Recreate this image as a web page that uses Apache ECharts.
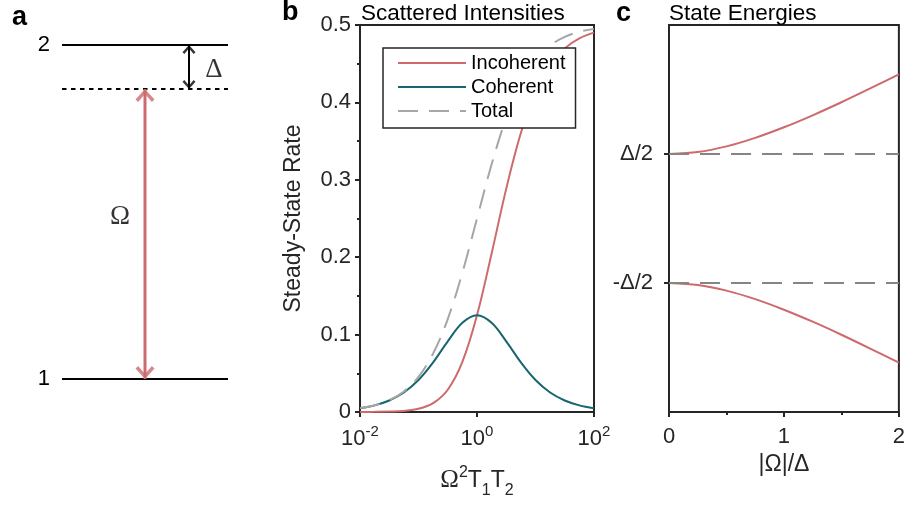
<!DOCTYPE html>
<html><head><meta charset="utf-8">
<script src="https://cdn.jsdelivr.net/npm/echarts@6/dist/echarts.min.js"></script>
<style>html,body{margin:0;padding:0;background:#fff}#c{width:908px;height:508px}</style>
</head><body><div id="c"></div>
<script>
// ---------- Panel b : scattered intensities vs saturation parameter ----------
const sValues    = [0.01, 0.01778, 0.03162, 0.05623, 0.1, 0.1778, 0.3162, 0.5623, 1, 1.778, 3.162, 5.623, 10, 17.78, 31.62, 56.23, 100];
const incoherent = [0.0001, 0.0002, 0.0005, 0.0014, 0.0041, 0.0114, 0.0288, 0.0648, 0.125, 0.2048, 0.2886, 0.3604, 0.4132, 0.4482, 0.4698, 0.4827, 0.4901];
const coherent   = [0.0049, 0.0086, 0.0149, 0.0252, 0.0413, 0.0641, 0.0913, 0.1152, 0.125, 0.1152, 0.0913, 0.0641, 0.0413, 0.0252, 0.0149, 0.0086, 0.0049];
const total      = [0.0050, 0.0087, 0.0153, 0.0266, 0.0455, 0.0755, 0.1201, 0.1800, 0.25, 0.3200, 0.3799, 0.4245, 0.4545, 0.4734, 0.4847, 0.4913, 0.4950];
const seriesNames = ['Incoherent', 'Coherent', 'Total'];
const bTickValues = [0.01, 1, 100];

// ---------- Panel c : state energies ----------
const rabiRatio   = [0, 0.25, 0.5, 0.75, 1, 1.25, 1.5, 1.75, 2];
const upperEnergy = [0.5, 0.515, 0.559, 0.625, 0.707, 0.800, 0.901, 1.008, 1.118];
const lowerEnergy = [-0.5, -0.515, -0.559, -0.625, -0.707, -0.800, -0.901, -1.008, -1.118];
const bareEnergies = [0.5, -0.5];
const energyTickValues = [-0.5, 0.5];
const energyTickLabels = ['-Δ/2', 'Δ/2'];

// ---------- Panel a : level diagram ----------
const levelEnergies = [0, 1];
const levelNames = ['1', '2'];
const laserLevel = 0.868;      // dotted (laser-dressed) level
const laserArrowX = 0.5;
const detuningArrowX = 0.765;
const diagramLabels = [{text: 'Ω', x: 0.35, y: 0.485}, {text: 'Δ', x: 0.915, y: 0.925}];

const RED = '#cd6a6e', TEAL = '#17666e', GRAY = '#a6a6a6', DGRAY = '#858585', AX = '#262626';
const FONT = '"Liberation Sans", Arial, sans-serif';
const SERIF = '"Liberation Serif", "DejaVu Serif", serif';
const chevUp = 'path://M10,0 L20,10 L17.2,12.4 L10,4.8 L2.8,12.4 L0,10 Z';
const chevDown = 'path://M10,12.4 L20,2.4 L17.2,0 L10,7.6 L2.8,0 L0,2.4 Z';

const sup = n => '{b|10}{s|' + n + '}';

const chart = echarts.init(document.getElementById('c'));
const axisLine = {show: true, onZero: false, lineStyle: {color: AX, width: 2}};
const tick = {show: true, inside: false, length: 5, lineStyle: {color: AX, width: 2}};
const minorTick = {show: true, splitNumber: 2, length: 3, lineStyle: {color: AX, width: 2}};
const letter = {fontSize: 27, fontWeight: 'bold', color: '#000', fontFamily: FONT};
const head = {fontSize: 22.5, fontWeight: 'normal', color: '#000', fontFamily: FONT};

const option = {
  animation: false,
  textStyle: {fontFamily: FONT},
  title: [
    {text: 'a', left: 12, top: 4, padding: 0, textStyle: letter},
    {text: 'b', left: 282, top: -1, padding: 0, textStyle: letter},
    {text: 'c', left: 616, top: 0, padding: 0, textStyle: letter},
    {text: 'Scattered Intensities', left: 361, top: 2, padding: 0, textStyle: head},
    {text: 'State Energies', left: 669, top: 2, padding: 0, textStyle: head}
  ],
  legend: {
    data: seriesNames, left: 383, top: 48, orient: 'vertical', z: 20,
    itemWidth: 68, itemHeight: 14, itemGap: 4, padding: [5, 10, 7, 14],
    borderColor: AX, borderWidth: 1.5, backgroundColor: '#fff',
    itemStyle: {opacity: 0},
    textStyle: {fontSize: 20, lineHeight: 20, color: '#000', fontFamily: FONT}
  },
  grid: [
    {left: 360, top: 25, width: 234, height: 387, show: true, borderColor: AX, borderWidth: 2, containLabel: false},
    {left: 669, top: 25, width: 233, height: 387, show: true, borderColor: AX, borderWidth: 2, containLabel: false},
    {left: 62, top: 45, width: 166, height: 334, show: false, containLabel: false}
  ],
  xAxis: [
    {gridIndex: 0, type: 'log', logBase: 100, min: 0.01, max: 100,
     axisLine, axisTick: tick, splitLine: {show: false}, minorTick: {show: false},
     axisLabel: {margin: 16, color: AX, formatter: v => sup(Math.round(Math.log10(v))),
       rich: {b: {fontSize: 22, color: AX, verticalAlign: 'top', fontFamily: FONT},
              s: {fontSize: 15, color: AX, verticalAlign: 'top', padding: [-4, 0, 0, 0], fontFamily: FONT}}},
     name: '{o|Ω}{s|2}{t|T}{u|1}{t|T}{u|2}', nameLocation: 'middle', nameGap: 56,
     nameTextStyle: {rich: {
       o: {fontSize: 25, fontFamily: SERIF, color: AX, verticalAlign: 'top'},
       s: {fontSize: 16, fontFamily: FONT, color: AX, verticalAlign: 'top', padding: [-3, 0, 0, 0]},
       t: {fontSize: 23, fontFamily: FONT, color: AX, verticalAlign: 'top', padding: [1, 0, 0, 0]},
       u: {fontSize: 16, fontFamily: FONT, color: AX, verticalAlign: 'top', padding: [15, 0, 0, 0]}}}},
    {gridIndex: 1, type: 'value', min: 0, max: 2, interval: 1,
     axisLine, axisTick: tick, minorTick, splitLine: {show: false},
     axisLabel: {margin: 14, fontSize: 22, color: AX, fontFamily: FONT},
     name: '|Ω|/Δ', nameLocation: 'middle', nameGap: 40,
     nameTextStyle: {fontSize: 23, color: AX, fontFamily: FONT, verticalAlign: 'top'}},
    {gridIndex: 2, type: 'value', min: 0, max: 1, show: false}
  ],
  yAxis: [
    {gridIndex: 0, type: 'value', min: 0, max: 0.5, interval: 0.1,
     axisLine, axisTick: tick, minorTick, splitLine: {show: false},
     axisLabel: {margin: 9, fontSize: 22, color: AX, fontFamily: FONT},
     name: 'Steady-State Rate', nameLocation: 'middle', nameGap: 55,
     nameTextStyle: {fontSize: 23, color: AX, fontFamily: FONT}},
    {gridIndex: 1, type: 'value', min: -1.5, max: 1.5,
     axisLine, axisTick: Object.assign({}, tick, {customValues: energyTickValues}), splitLine: {show: false},
     axisLabel: {customValues: energyTickValues, margin: 16, fontSize: 22, color: AX, fontFamily: FONT,
       formatter: v => energyTickLabels[energyTickValues.indexOf(v)]}},
    {gridIndex: 2, type: 'value', min: 0, max: 1, interval: 1,
     axisLine: {show: false}, axisTick: {show: false}, splitLine: {show: false},
     axisLabel: {margin: 12, fontSize: 22, color: '#000', fontFamily: FONT,
       formatter: v => levelNames[levelEnergies.indexOf(v)]}}
  ],
  series: [
    {name: 'Incoherent', type: 'line', xAxisIndex: 0, yAxisIndex: 0, smooth: 0.35, symbol: 'none',
     data: sValues.map((s, i) => [s, incoherent[i]]), lineStyle: {color: RED, width: 2}, itemStyle: {color: RED}, z: 3},
    {name: 'Coherent', type: 'line', xAxisIndex: 0, yAxisIndex: 0, smooth: 0.35, symbol: 'none',
     data: sValues.map((s, i) => [s, coherent[i]]), lineStyle: {color: TEAL, width: 2}, itemStyle: {color: TEAL}, z: 4},
    {name: 'Total', type: 'line', xAxisIndex: 0, yAxisIndex: 0, smooth: 0.35, symbol: 'none',
     data: sValues.map((s, i) => [s, total[i]]), lineStyle: {color: GRAY, width: 2, type: [20, 11]}, itemStyle: {color: GRAY}, z: 5},

    {name: 'bare', type: 'line', xAxisIndex: 1, yAxisIndex: 1, symbol: 'none', data: [], z: 2,
     markLine: {silent: true, symbol: 'none', label: {show: false},
       lineStyle: {color: DGRAY, width: 2, type: [20, 11]},
       data: bareEnergies.map(e => ({yAxis: e}))}},
    {name: 'upper', type: 'line', xAxisIndex: 1, yAxisIndex: 1, smooth: 0.3, symbol: 'none',
     data: rabiRatio.map((x, i) => [x, upperEnergy[i]]), lineStyle: {color: RED, width: 2}, z: 3},
    {name: 'lower', type: 'line', xAxisIndex: 1, yAxisIndex: 1, smooth: 0.3, symbol: 'none',
     data: rabiRatio.map((x, i) => [x, lowerEnergy[i]]), lineStyle: {color: RED, width: 2}, z: 3},

    ...levelEnergies.map(e => ({type: 'line', xAxisIndex: 2, yAxisIndex: 2, symbol: 'none', silent: true,
      data: [[0, e], [1, e]], lineStyle: {color: '#000', width: 2}})),
    {type: 'line', xAxisIndex: 2, yAxisIndex: 2, symbol: 'none', silent: true,
      data: [[0, laserLevel], [1, laserLevel]], lineStyle: {color: '#000', width: 2, type: [4.5, 4.5]}},
    {type: 'line', xAxisIndex: 2, yAxisIndex: 2, symbol: 'none', silent: true,
      data: [[laserArrowX, levelEnergies[0]], [laserArrowX, laserLevel]], lineStyle: {color: RED, width: 3}},
    {type: 'scatter', xAxisIndex: 2, yAxisIndex: 2, silent: true,
      data: [
        {value: [laserArrowX, laserLevel], symbol: chevUp, symbolSize: [19, 13], symbolOffset: [0, 6.5], itemStyle: {color: RED}},
        {value: [laserArrowX, levelEnergies[0]], symbol: chevDown, symbolSize: [19, 13], symbolOffset: [0, -6.5], itemStyle: {color: RED}},
        {value: [detuningArrowX, levelEnergies[1]], symbol: chevUp, symbolSize: [13, 9], symbolOffset: [0, 4.5], itemStyle: {color: '#000'}},
        {value: [detuningArrowX, laserLevel], symbol: chevDown, symbolSize: [13, 9], symbolOffset: [0, -4.5], itemStyle: {color: '#000'}}
      ]},
    {type: 'line', xAxisIndex: 2, yAxisIndex: 2, symbol: 'none', silent: true,
      data: [[detuningArrowX, laserLevel], [detuningArrowX, levelEnergies[1]]], lineStyle: {color: '#000', width: 2}},
    {type: 'scatter', xAxisIndex: 2, yAxisIndex: 2, silent: true, symbolSize: 0,
      data: diagramLabels.map(l => ({value: [l.x, l.y], name: l.text})),
      label: {show: true, position: 'inside', formatter: p => p.name, fontSize: 27, fontFamily: SERIF, color: '#000'}}
  ]
};
chart.setOption(option);
</script>
</body></html>
